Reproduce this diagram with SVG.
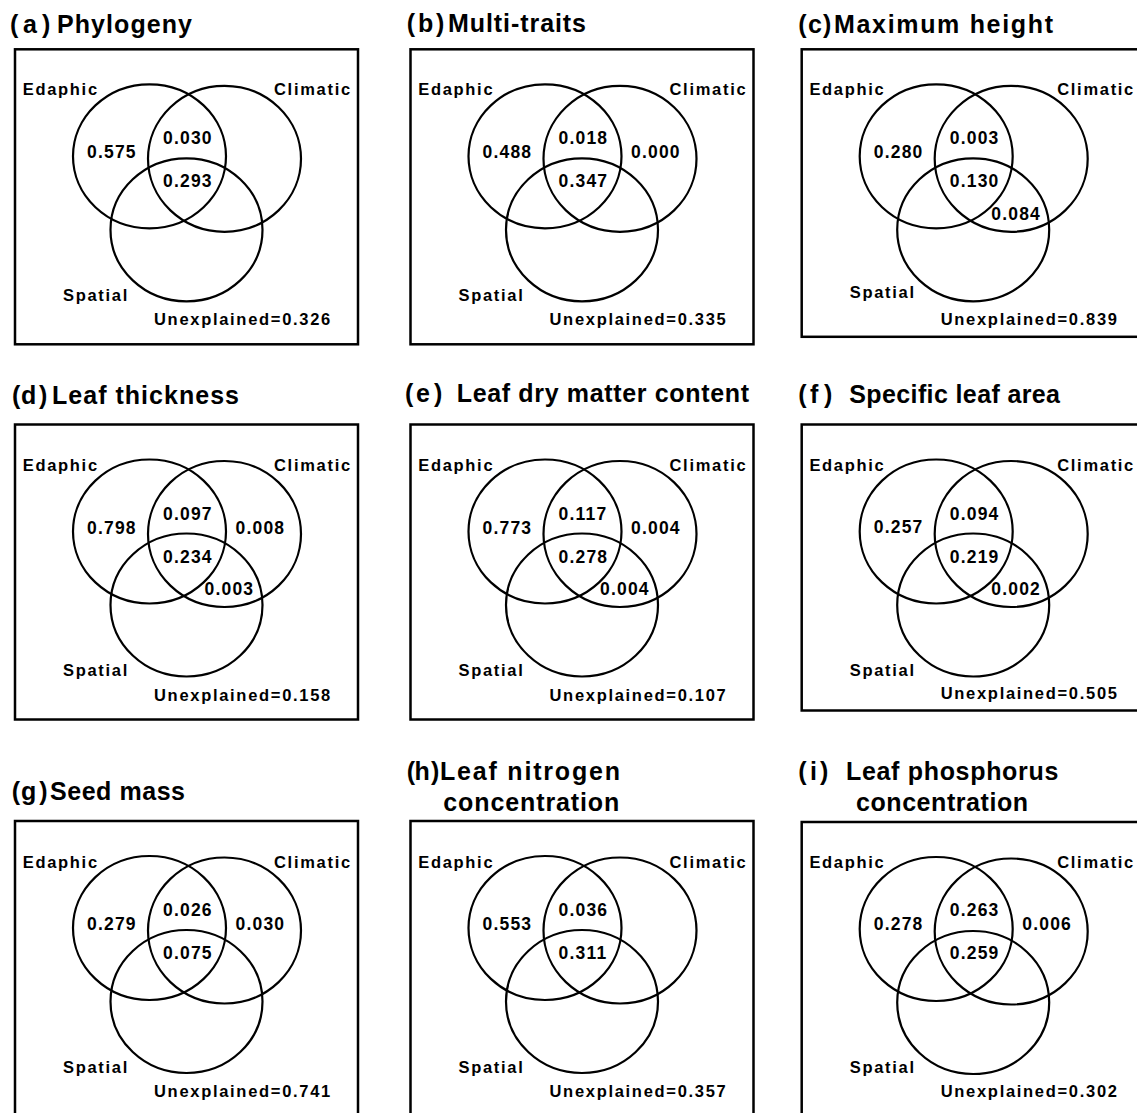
<svg xmlns="http://www.w3.org/2000/svg" width="1137" height="1113" viewBox="0 0 1137 1113">
<style>
text{font-family:"Liberation Sans",Arial,sans-serif;font-weight:bold;fill:#000}
.t{font-size:25px}
.l{font-size:16.5px;letter-spacing:1.7px}
.n{font-size:17.5px;letter-spacing:1.2px}
.box{fill:none;stroke:#000;stroke-width:2.5}
.c{fill:none;stroke:#000;stroke-width:2.2}
</style>
<rect width="1137" height="1113" fill="#fff"/>
<g id="titles">
<text class="t" x="10" y="33">(<tspan x="23">a</tspan><tspan x="42">)</tspan> <tspan x="57" textLength="135">Phylogeny</tspan></text>
<text class="t" x="406.7" y="32">(<tspan x="418">b</tspan><tspan x="436">)</tspan> <tspan x="448" textLength="138">Multi-traits</tspan></text>
<text class="t" x="798.3" y="33">(<tspan x="808">c</tspan><tspan x="823">)</tspan> <tspan x="834" textLength="219">Maximum height</tspan></text>
<text class="t" x="12" y="404">(<tspan x="21">d</tspan><tspan x="39">)</tspan> <tspan x="52" textLength="187">Leaf thickness</tspan></text>
<text class="t" x="405" y="402">(<tspan x="416">e</tspan><tspan x="434">)</tspan> <tspan x="456.7" textLength="292.3">Leaf dry matter content</tspan></text>
<text class="t" x="798.3" y="403">(<tspan x="810">f</tspan><tspan x="824">)</tspan> <tspan x="849.3" textLength="210.7">Specific leaf area</tspan></text>
<text class="t" x="11.7" y="800">(<tspan x="21">g</tspan><tspan x="39.3">)</tspan> <tspan x="50" textLength="135">Seed mass</tspan></text>
<text class="t" x="406.7" y="780">(<tspan x="414.5">h</tspan><tspan x="431">)</tspan> <tspan x="440" textLength="180">Leaf nitrogen</tspan></text>
<text class="t" x="443.3" y="810.7" textLength="176">concentration</text>
<text class="t" x="798.3" y="780">(<tspan x="810">i</tspan><tspan x="820">)</tspan> <tspan x="846" textLength="212.3">Leaf phosphorus</tspan></text>
<text class="t" x="856" y="810.7" textLength="172">concentration</text>
</g>
<g id="panel-a" transform="translate(15,49.3)">
<rect class="box" width="343" height="295"/>
<ellipse class="c" cx="134.5" cy="107" rx="76.5" ry="72"/><ellipse class="c" cx="209.5" cy="109.5" rx="76.5" ry="73"/><ellipse class="c" cx="171.5" cy="180.5" rx="76" ry="71.5"/>
<text class="l" x="7.7" y="46">Edaphic</text><text class="l" x="259" y="46">Climatic</text><text class="l" x="48" y="251.5">Spatial</text><text class="l" x="139" y="276">Unexplained=0.326</text>
<text class="n" x="72" y="109">0.575</text><text class="n" x="148" y="95">0.030</text><text class="n" x="148" y="138">0.293</text>
</g>
<g id="panel-b" transform="translate(410.5,49.3)">
<rect class="box" width="343" height="295"/>
<ellipse class="c" cx="134.5" cy="107" rx="76.5" ry="72"/><ellipse class="c" cx="209.5" cy="109.5" rx="76.5" ry="73"/><ellipse class="c" cx="171.5" cy="180.5" rx="76" ry="71.5"/>
<text class="l" x="7.7" y="46">Edaphic</text><text class="l" x="259" y="46">Climatic</text><text class="l" x="48" y="251.5">Spatial</text><text class="l" x="139" y="276">Unexplained=0.335</text>
<text class="n" x="72" y="109">0.488</text><text class="n" x="148" y="95">0.018</text><text class="n" x="220.5" y="109">0.000</text><text class="n" x="148" y="138">0.347</text>
</g>
<g id="panel-c" transform="translate(801.7,49.3)">
<rect class="box" width="343" height="287.5"/>
<ellipse class="c" cx="134.5" cy="107" rx="76.5" ry="72"/><ellipse class="c" cx="209.5" cy="109.5" rx="76.5" ry="73"/><ellipse class="c" cx="171.5" cy="180.5" rx="76" ry="71.5"/>
<text class="l" x="7.7" y="46">Edaphic</text><text class="l" x="255.5" y="46">Climatic</text><text class="l" x="48" y="249">Spatial</text><text class="l" x="139" y="275.5">Unexplained=0.839</text>
<text class="n" x="72" y="109">0.280</text><text class="n" x="148" y="95">0.003</text><text class="n" x="148" y="138">0.130</text><text class="n" x="189.5" y="170.5">0.084</text>
</g>
<g id="panel-d" transform="translate(15,424.5)">
<rect class="box" width="343" height="295"/>
<ellipse class="c" cx="134.5" cy="107" rx="76.5" ry="72"/><ellipse class="c" cx="209.5" cy="109.5" rx="76.5" ry="73"/><ellipse class="c" cx="171.5" cy="180.5" rx="76" ry="71.5"/>
<text class="l" x="7.7" y="46">Edaphic</text><text class="l" x="259" y="46">Climatic</text><text class="l" x="48" y="251.5">Spatial</text><text class="l" x="139" y="276">Unexplained=0.158</text>
<text class="n" x="72" y="109">0.798</text><text class="n" x="148" y="95">0.097</text><text class="n" x="220.5" y="109">0.008</text><text class="n" x="148" y="138">0.234</text><text class="n" x="189.5" y="170.5">0.003</text>
</g>
<g id="panel-e" transform="translate(410.5,424.5)">
<rect class="box" width="343" height="295"/>
<ellipse class="c" cx="134.5" cy="107" rx="76.5" ry="72"/><ellipse class="c" cx="209.5" cy="109.5" rx="76.5" ry="73"/><ellipse class="c" cx="171.5" cy="180.5" rx="76" ry="71.5"/>
<text class="l" x="7.7" y="46">Edaphic</text><text class="l" x="259" y="46">Climatic</text><text class="l" x="48" y="251.5">Spatial</text><text class="l" x="139" y="276">Unexplained=0.107</text>
<text class="n" x="72" y="109">0.773</text><text class="n" x="148" y="95">0.117</text><text class="n" x="220.5" y="109">0.004</text><text class="n" x="148" y="138">0.278</text><text class="n" x="189.5" y="170.5">0.004</text>
</g>
<g id="panel-f" transform="translate(801.7,424.5)">
<rect class="box" width="343" height="286"/>
<ellipse class="c" cx="134.5" cy="107" rx="76.5" ry="72"/><ellipse class="c" cx="209.5" cy="109.5" rx="76.5" ry="73"/><ellipse class="c" cx="171.5" cy="180.5" rx="76" ry="71.5"/>
<text class="l" x="7.7" y="46">Edaphic</text><text class="l" x="255.5" y="46">Climatic</text><text class="l" x="48" y="251">Spatial</text><text class="l" x="139" y="274">Unexplained=0.505</text>
<text class="n" x="72" y="108">0.257</text><text class="n" x="148" y="95">0.094</text><text class="n" x="148" y="138">0.219</text><text class="n" x="189.5" y="170.5">0.002</text>
</g>
<g id="panel-g" transform="translate(15,821)">
<rect class="box" width="343" height="300"/>
<ellipse class="c" cx="134.5" cy="107" rx="76.5" ry="72"/><ellipse class="c" cx="209.5" cy="109.5" rx="76.5" ry="73"/><ellipse class="c" cx="171.5" cy="180.5" rx="76" ry="71.5"/>
<text class="l" x="7.7" y="47">Edaphic</text><text class="l" x="259" y="47">Climatic</text><text class="l" x="48" y="251.5">Spatial</text><text class="l" x="139" y="276">Unexplained=0.741</text>
<text class="n" x="72" y="109">0.279</text><text class="n" x="148" y="95">0.026</text><text class="n" x="220.5" y="109">0.030</text><text class="n" x="148" y="138">0.075</text>
</g>
<g id="panel-h" transform="translate(410.5,821)">
<rect class="box" width="343" height="300"/>
<ellipse class="c" cx="134.5" cy="107" rx="76.5" ry="72"/><ellipse class="c" cx="209.5" cy="109.5" rx="76.5" ry="73"/><ellipse class="c" cx="171.5" cy="180.5" rx="76" ry="71.5"/>
<text class="l" x="7.7" y="47">Edaphic</text><text class="l" x="259" y="47">Climatic</text><text class="l" x="48" y="251.5">Spatial</text><text class="l" x="139" y="276">Unexplained=0.357</text>
<text class="n" x="72" y="109">0.553</text><text class="n" x="148" y="95">0.036</text><text class="n" x="148" y="138">0.311</text>
</g>
<g id="panel-i" transform="translate(801.7,822)">
<rect class="box" width="343" height="300"/>
<ellipse class="c" cx="134.5" cy="107" rx="76.5" ry="72"/><ellipse class="c" cx="209.5" cy="109.5" rx="76.5" ry="73"/><ellipse class="c" cx="171.5" cy="180.5" rx="76" ry="71.5"/>
<text class="l" x="7.7" y="46">Edaphic</text><text class="l" x="255.5" y="46">Climatic</text><text class="l" x="48" y="251">Spatial</text><text class="l" x="139" y="275">Unexplained=0.302</text>
<text class="n" x="72" y="108">0.278</text><text class="n" x="148" y="94">0.263</text><text class="n" x="220.5" y="108">0.006</text><text class="n" x="148" y="137">0.259</text>
</g>
<g id="connectors"/>
</svg>
